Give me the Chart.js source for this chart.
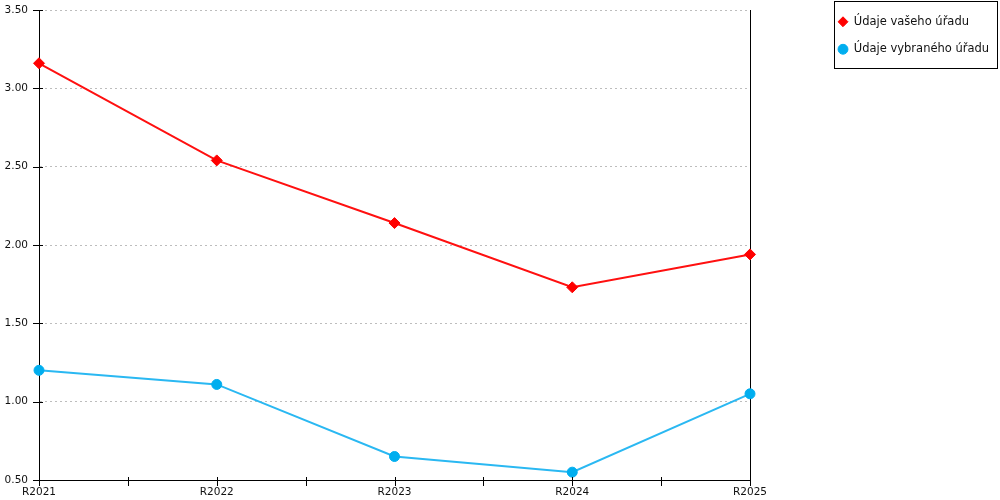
<!DOCTYPE html>
<html>
<head>
<meta charset="utf-8">
<script src="https://cdn.jsdelivr.net/npm/chart.js@4.4.1/dist/chart.umd.min.js"></script>
<style>
html,body{margin:0;padding:0;background:#fff;}
#wrap{width:1000px;height:500px;position:relative;}
</style>
</head>
<body>
<div id="wrap"><canvas id="c"></canvas></div>
<script>
const categories = ['R2021', 'R2022', 'R2023', 'R2024', 'R2025'];
const seriesNames = ['Údaje vašeho úřadu', 'Údaje vybraného úřadu'];
const yourOffice = [3.16, 2.54, 2.14, 1.73, 1.94];
const selectedOffice = [1.20, 1.11, 0.65, 0.55, 1.05];
const yTicks = [0.5, 1.0, 1.5, 2.0, 2.5, 3.0, 3.5];

const LEGEND_PAD = 16;

const legendFix = {
  id: 'legendFix',
  beforeLayout(chart) {
    const lg = chart.legend;
    if (lg && !lg._fixed) {
      const orig = lg.fit;
      lg.fit = function () { orig.call(this); this.width = 178; };
      lg._fixed = true;
    }
  },
  afterDraw(chart) {
    const ctx = chart.ctx;
    const lg = chart.legend;
    const ca = chart.chartArea;
    ctx.save();
    if (lg) {
      ctx.strokeStyle = '#000';
      ctx.lineWidth = 1;
      const x0 = Math.round(lg.left + 12) + 0.5;
      const x1 = Math.round(lg.right - 2) - 0.5;
      ctx.strokeRect(x0, 1.5, x1 - x0, 67);
    }
    const ys = chart.scales.y;
    ctx.strokeStyle = '#000';
    ctx.lineWidth = 1;
    ctx.setLineDash([]);
    ctx.beginPath();
    yTicks.forEach(v => {
      const py = Math.round(ys.getPixelForValue(v)) + 0.5;
      ctx.moveTo(ca.left - 6, py);
      ctx.lineTo(ca.left + 4, py);
    });
    const xs = chart.scales.x;
    for (let i = 0; i < categories.length; i++) {
      const px = Math.round(xs.getPixelForValue(i)) + 0.5;
      ctx.moveTo(px, ca.bottom - 3);
      ctx.lineTo(px, ca.bottom + 6);
      if (i < categories.length - 1) {
        const pm = Math.round((xs.getPixelForValue(i) + xs.getPixelForValue(i + 1)) / 2) + 0.5;
        ctx.moveTo(pm, ca.bottom - 3);
        ctx.lineTo(pm, ca.bottom + 6);
      }
    }
    ctx.stroke();
    ctx.restore();
  }
};

new Chart(document.getElementById('c'), {
  type: 'line',
  data: {
    labels: categories,
    datasets: [
      {
        label: seriesNames[0],
        data: yourOffice,
        borderColor: '#ff1010',
        backgroundColor: '#ff0000',
        borderWidth: 2,
        pointStyle: 'rectRot',
        pointRadius: 5.5,
        pointHoverRadius: 5.5,
        pointBorderWidth: 1,
        pointBorderColor: '#ff0000',
        pointBackgroundColor: '#ff0000',
        tension: 0
      },
      {
        label: seriesNames[1],
        data: selectedOffice,
        borderColor: '#2ab8f2',
        backgroundColor: '#00aeef',
        borderWidth: 2,
        pointStyle: 'circle',
        pointRadius: 5,
        pointHoverRadius: 5,
        pointBorderWidth: 1,
        pointBorderColor: '#00aeef',
        pointBackgroundColor: '#00aeef',
        tension: 0
      }
    ]
  },
  options: {
    responsive: true,
    maintainAspectRatio: false,
    animation: false,
    layout: { padding: 0 },
    plugins: {
      tooltip: { enabled: false },
      legend: {
        position: 'right',
        align: 'start',
        labels: {
          usePointStyle: true,
          boxWidth: 10,
          boxHeight: 7,
          padding: LEGEND_PAD,
          color: '#111',
          font: { family: 'DejaVu Sans', size: 11.5 }
        }
      }
    },
    scales: {
      x: {
        type: 'category',
        offset: false,
        afterFit(s) { s.height = 20; },
        grid: { display: false, drawTicks: false },
        border: { display: true, color: '#000', width: 1 },
        ticks: {
          padding: 6,
          color: '#111',
          maxRotation: 0,
          autoSkip: false,
          font: { family: 'DejaVu Sans', size: 10.5 }
        }
      },
      xTop: {
        type: 'category',
        position: 'top',
        display: true,
        afterFit(s) { s.height = 10; },
        grid: { display: false, drawTicks: false },
        border: { display: false },
        ticks: { display: false }
      },
      y: {
        type: 'linear',
        position: 'left',
        min: 0.5,
        max: 3.5,
        afterFit(s) { s.width = 39; },
        afterBuildTicks(s) { s.ticks = yTicks.map(v => ({ value: v })); },
        grid: {
          color: '#bdbdbd',
          lineWidth: 1,
          drawTicks: true,
          tickLength: 11,
          tickColor: 'rgba(0,0,0,0)'
        },
        border: { display: true, color: '#000', width: 1, dash: [2, 3] },
        ticks: {
          padding: 0,
          color: '#111',
          font: { family: 'DejaVu Sans', size: 10.5 },
          callback: v => Number(v).toFixed(2)
        }
      },
      y2: {
        type: 'linear',
        position: 'right',
        display: true,
        min: 0.5,
        max: 3.5,
        afterFit(s) { s.width = 72; },
        grid: { display: false, drawTicks: false },
        border: { display: true, color: '#000', width: 1 },
        ticks: { display: false }
      }
    }
  },
  plugins: [legendFix]
});
</script>
</body>
</html>
